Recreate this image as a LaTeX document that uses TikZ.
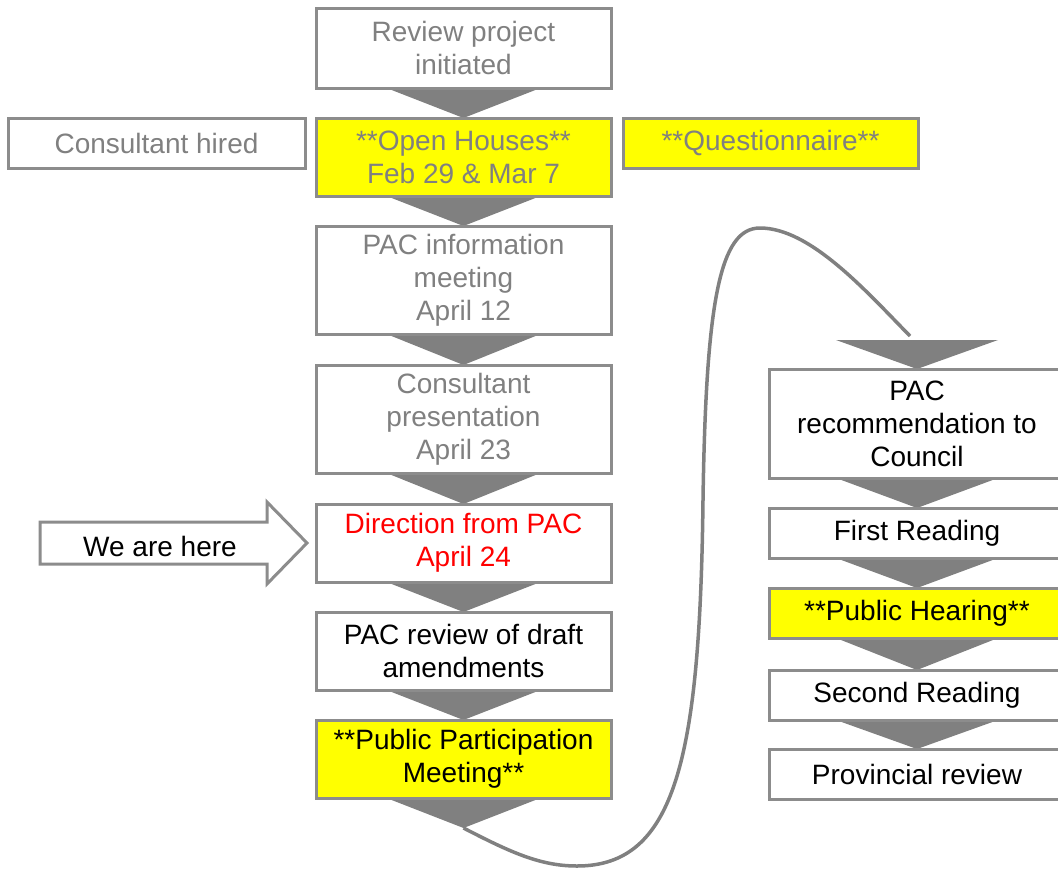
\documentclass[tikz,border=0pt]{standalone}
\usepackage{fontspec}
\setmainfont{Liberation Sans}
\usepackage{xcolor}
\usetikzlibrary{positioning, calc, backgrounds}

\definecolor{tgray}{RGB}{128,128,128}
\definecolor{bgray}{RGB}{140,140,140}
\definecolor{hilite}{RGB}{255,255,0}
\definecolor{nowred}{RGB}{255,0,0}

\begin{document}
\begin{tikzpicture}[
    x=1pt, y=-1pt,
    node distance=30pt,
    box/.style={rectangle, draw=bgray, line width=3pt, fill=white, minimum width=295pt, align=center, inner sep=0pt, outer sep=0pt, font=\fontsize{28}{33}\selectfont},
    old/.style={box, text=tgray},
    hot/.style={box, fill=hilite},
    tri/.style={fill=tgray},
    loopline/.style={draw=tgray, line width=3.5pt}
]
\useasboundingbox (0,0) rectangle (1058,871);

% left column
\node[old, minimum height=80pt] (review) at (463.5,48) {Review project\\initiated};
\node[old, hot, minimum height=78pt, below=of review] (open) {**Open Houses**\\Feb 29 \& Mar 7};
\node[old, minimum height=108pt, below=of open] (info) {PAC information\\meeting\\April 12};
\node[old, minimum height=108pt, below=31pt of info] (pres) {Consultant\\presentation\\April 23};
\node[box, text=nowred, minimum height=78pt, below=31pt of pres] (direction) {Direction from PAC\\April 24};
\node[box, minimum height=78pt, below=of direction] (draft) {PAC review of draft\\amendments};
\node[hot, minimum height=78pt, below=of draft] (ppm) {**Public Participation\\Meeting**};
\coordinate[below=30pt of ppm] (lout);

% side boxes
\node[old, minimum width=297pt, minimum height=50pt, left=11pt of open.north west, anchor=north east] (hired) {Consultant hired};
\node[old, hot, minimum height=50pt, right=12pt of open.north east, anchor=north west] (quest) {**Questionnaire**};

% we are here
\node[font=\fontsize{28}{33}\selectfont] (here) at (160,546) {We are here};

% right column
\node[box, minimum height=109pt] (rec) at (917,423.5) {PAC\\recommendation to\\Council};
\node[box, minimum height=50pt, below=of rec] (first) {First Reading};
\node[hot, minimum height=50pt, below=of first] (hearing) {**Public Hearing**};
\node[box, minimum height=50pt, below=32pt of hearing] (second) {Second Reading};
\node[box, minimum height=50pt, below=29pt of second] (prov) {Provincial review};
\coordinate[above=29pt of rec] (rin);

\begin{scope}[on background layer]
\draw[draw=bgray, line width=3pt, fill=white, line join=miter] (40,522) -- (267,522) -- (267,502) -- ($(direction.west)+(-9,0)$) -- (267,584) -- (267,564) -- (40,564) -- cycle;
\fill[tri] ($(review.south)+(-77,0)$) -- ++(154,0) -- (open.north) -- cycle;
\fill[tri] ($(open.south)+(-77,0)$) -- ++(154,0) -- (info.north) -- cycle;
\fill[tri] ($(info.south)+(-77,0)$) -- ++(154,0) -- (pres.north) -- cycle;
\fill[tri] ($(pres.south)+(-77,0)$) -- ++(154,0) -- (direction.north) -- cycle;
\fill[tri] ($(direction.south)+(-77,0)$) -- ++(154,0) -- (draft.north) -- cycle;
\fill[tri] ($(draft.south)+(-77,0)$) -- ++(154,0) -- (ppm.north) -- cycle;
\fill[tri] ($(ppm.south)+(-77,0)$) -- ++(154,0) -- (lout) -- cycle;
\fill[tri] ($(rin)+(-81,0)$) -- ++(162,0) -- (rec.north) -- cycle;
\fill[tri] ($(rec.south)+(-81,0)$) -- ++(162,0) -- (first.north) -- cycle;
\fill[tri] ($(first.south)+(-81,0)$) -- ++(162,0) -- (hearing.north) -- cycle;
\fill[tri] ($(hearing.south)+(-81,0)$) -- ++(162,0) -- (second.north) -- cycle;
\fill[tri] ($(second.south)+(-81,0)$) -- ++(162,0) -- (prov.north) -- cycle;
\end{scope}

% long connector
\coordinate (low) at (577,866);
\coordinate (mid) at (703,500);
\coordinate (high) at (760,228);
\draw[loopline] (lout) .. controls (510,852) and (540,866) .. (low)
    .. controls (675,866) and (700,760) .. (mid)
    .. controls (706,300) and (720,228) .. (high)
    .. controls (810,228) and (865,290) .. ($(rin)+(-7,-4)$);

\end{tikzpicture}
\end{document}
